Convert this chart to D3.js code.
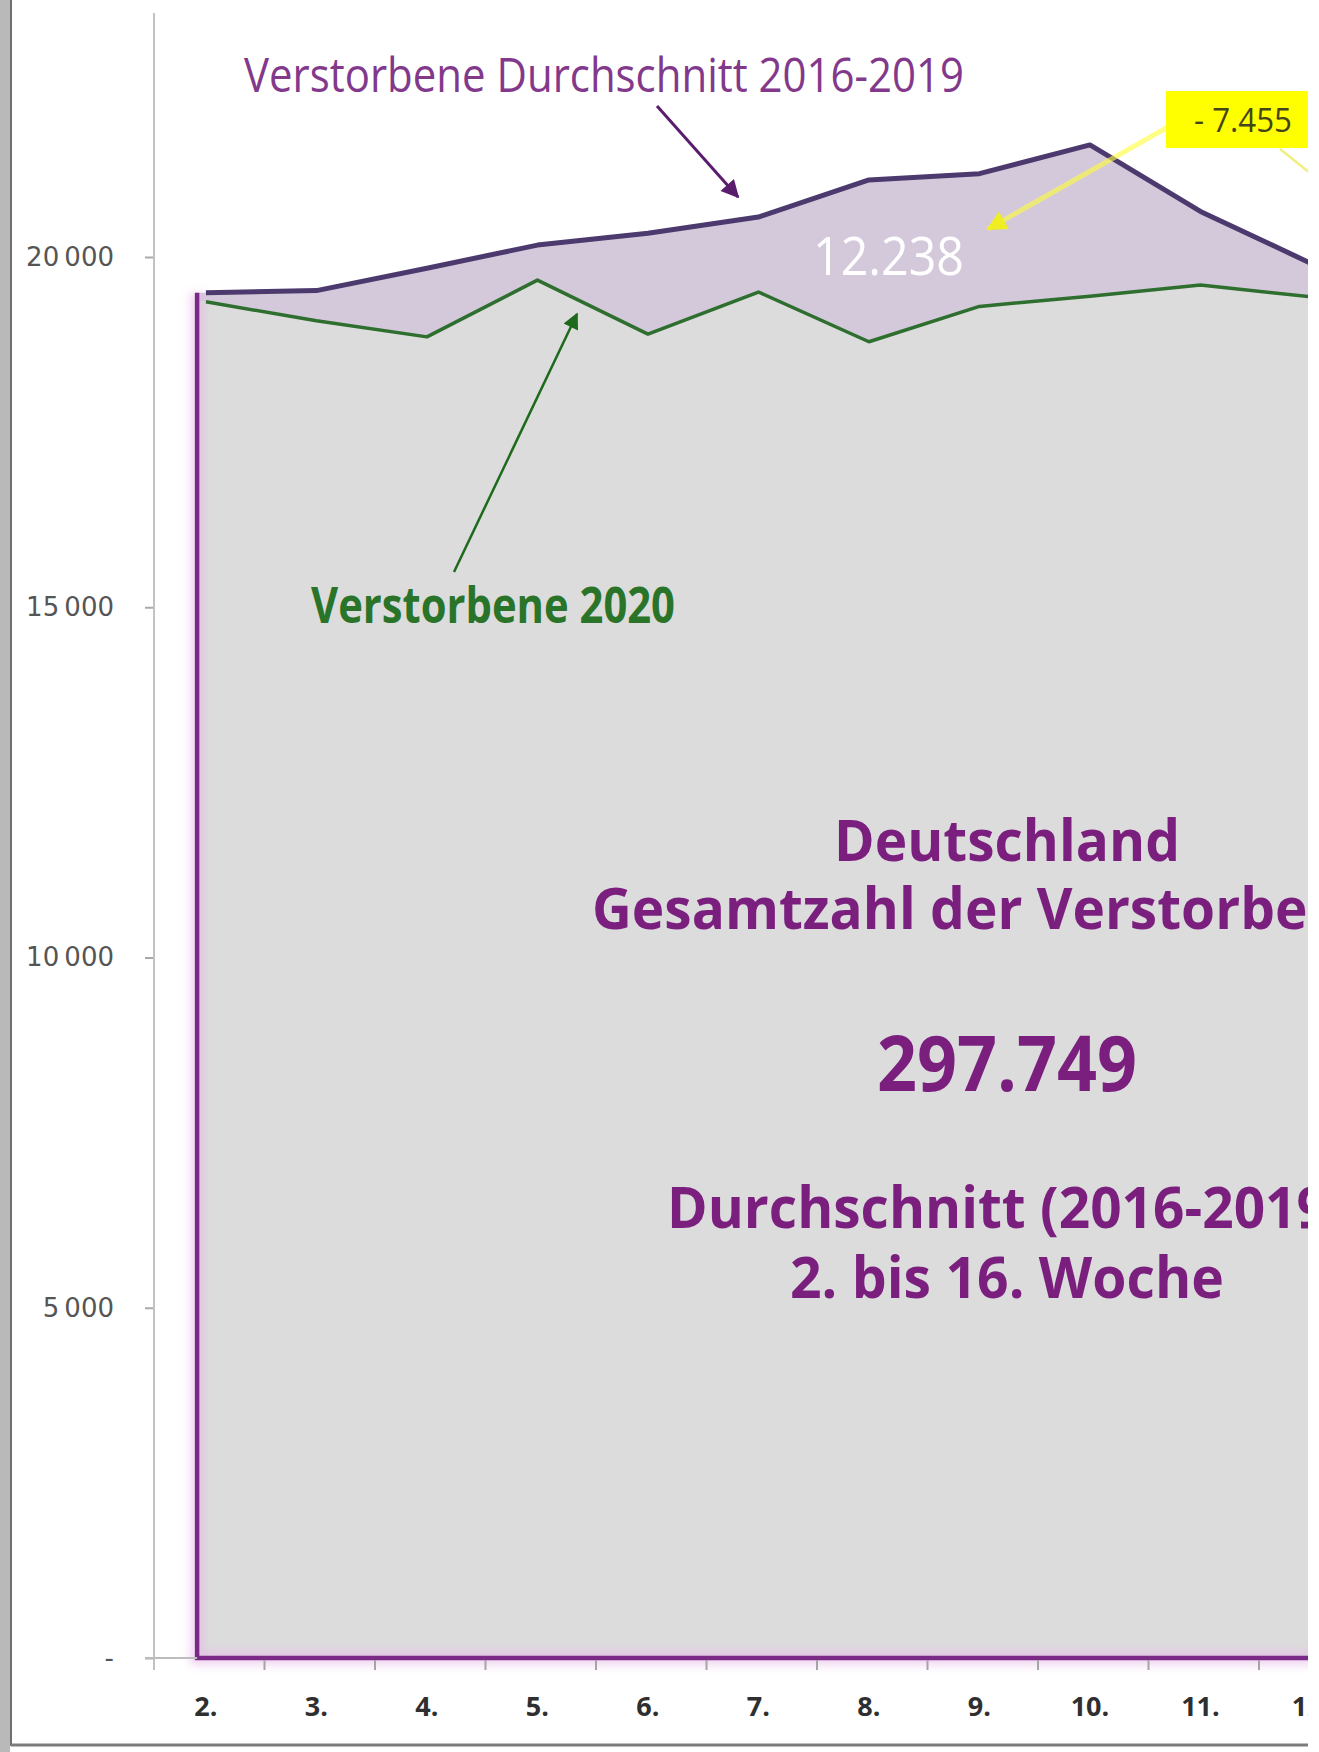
<!DOCTYPE html>
<html>
<head>
<meta charset="utf-8">
<script src="https://cdn.jsdelivr.net/npm/d3@7/dist/d3.min.js"></script>
<style>
  html, body { margin: 0; padding: 0; background: #ffffff; }
  svg { display: block; }
</style>
</head>
<body>
<svg id="chart" width="1319" height="1752"></svg>
<script>
// Calendar weeks shown on the x axis
const weeks = ["2.", "3.", "4.", "5.", "6.", "7.", "8.", "9.", "10.", "11.", "12."];
// Deaths per week, mean of 2016-2019
const average2016to2019 = [19490, 19520, 19840, 20170, 20340, 20570, 21100, 21190, 21600, 20650, 19910];
// Deaths per week, 2020
const deaths2020 = [19360, 19090, 18860, 19670, 18900, 19500, 18790, 19295, 19440, 19600, 19430];
// Value axis ticks
const yTickValues = [0, 5000, 10000, 15000, 20000];
// Annotation texts
const averageLabel = "Verstorbene Durchschnitt 2016-2019";
const deaths2020Label = "Verstorbene 2020";
const gapLabel = "12.238";
const calloutLabel = "- 7.455";
const headline = ["Deutschland", "Gesamtzahl der Verstorbenen"];
const totalLabel = "297.749";
const periodLines = ["Durchschnitt (2016-2019)", "2. bis 16. Woche"];

const W = 1319, H = 1752;
const svg = d3.select("#chart").attr("width", W).attr("height", H);
const defs = svg.append("defs");

defs.append("clipPath").attr("id", "frameClip")
  .append("rect").attr("x", 12).attr("y", 0).attr("width", 1296).attr("height", 1743);
defs.append("filter").attr("id", "soft").attr("x", "-20%").attr("y", "-20%").attr("width", "140%").attr("height", "140%")
  .append("feGaussianBlur").attr("stdDeviation", 4);

function arrowMarker(id, color, w, h) {
  defs.append("marker").attr("id", id)
    .attr("viewBox", "0 0 10 10").attr("refX", 9).attr("refY", 5)
    .attr("markerUnits", "userSpaceOnUse")
    .attr("markerWidth", w).attr("markerHeight", h)
    .attr("orient", "auto")
    .append("path").attr("d", "M0,0 L10,5 L0,10 Z").attr("fill", color);
}
arrowMarker("arrowPurple", "#5a1d6e", 22, 18);
arrowMarker("arrowGreen", "#1d6a1d", 22, 16);
arrowMarker("arrowYellow", "#eeee22", 22, 20);

// Scales: one band per week, starting at the value axis
const step = 110.5;
const x = d3.scaleBand().domain(weeks).range([154, 154 + step * weeks.length]).padding(0);
const y = d3.scaleLinear().domain([0, 20000]).range([1658, 257]);
const cx = w => x(w) + x.bandwidth() * 0.47;

const rows = weeks.map((w, i) => ({ px: cx(w), avg: average2016to2019[i], d20: deaths2020[i] }));
const edgeX = cx(weeks[0]) - x.bandwidth() * 0.08;
const areaRows = [{ px: edgeX, avg: rows[0].avg, d20: rows[0].d20 }].concat(rows);

// Frame of the picture
svg.append("rect").attr("x", 0).attr("y", 0).attr("width", 10).attr("height", H).attr("fill", "#b9b9b9");
svg.append("line").attr("x1", 11).attr("x2", 11).attr("y1", 0).attr("y2", 1746)
  .attr("stroke", "#6f6f6f").attr("stroke-width", 2);
svg.append("line").attr("x1", 11).attr("x2", 1308).attr("y1", 1745).attr("y2", 1745)
  .attr("stroke", "#7c7c7c").attr("stroke-width", 3);

const g = svg.append("g").attr("clip-path", "url(#frameClip)");

// Filled areas: grey under the 2020 line, lilac between 2020 and the average
g.append("path").datum(areaRows)
  .attr("d", d3.area().x(d => d.px).y0(y(0)).y1(d => y(d.d20)))
  .attr("fill", "#dcdcdc");
g.append("path").datum(areaRows)
  .attr("d", d3.area().x(d => d.px).y0(d => y(d.d20)).y1(d => y(d.avg)))
  .attr("fill", "#d4c9da");

// Outline of the area (left edge and base) with a soft pink halo
const outline = d3.line()([[edgeX, y(average2016to2019[0])], [edgeX, y(0)], [x.range()[1], y(0)]]);
g.append("path").attr("d", outline).attr("fill", "none")
  .attr("stroke", "#e7b9e8").attr("stroke-width", 14).attr("opacity", 0.6).attr("filter", "url(#soft)");
g.append("path").attr("d", outline).attr("fill", "none")
  .attr("stroke", "#7a2a86").attr("stroke-width", 4.5).attr("stroke-linejoin", "miter");

// Series lines
g.append("path").datum(rows)
  .attr("d", d3.line().x(d => d.px).y(d => y(d.d20)))
  .attr("fill", "none").attr("stroke", "#2e6e2e").attr("stroke-width", 3.5).attr("stroke-linejoin", "round");
g.append("path").datum(rows)
  .attr("d", d3.line().x(d => d.px).y(d => y(d.avg)))
  .attr("fill", "none").attr("stroke", "#4c3a6e").attr("stroke-width", 5).attr("stroke-linejoin", "round");

// Value axis
const yAxis = d3.axisLeft(y).tickValues(yTickValues).tickSize(9).tickPadding(31)
  .tickFormat(v => v === 0 ? "-" : d3.format(",")(v).replace(/,/g, "\u2009"));
const ya = svg.append("g").attr("transform", "translate(154,0)").call(yAxis);
ya.select(".domain").remove();
ya.selectAll(".tick line").attr("stroke", "#a9a9a9").attr("stroke-width", 2);
ya.selectAll(".tick text").attr("font-family", "'DejaVu Sans', Verdana, sans-serif")
  .attr("font-size", 26).attr("fill", "#555555");
svg.append("line").attr("x1", 154).attr("x2", 154).attr("y1", 13).attr("y2", y(0) + 12)
  .attr("stroke", "#c2c2c2").attr("stroke-width", 2);
svg.append("line").attr("x1", 145).attr("x2", edgeX).attr("y1", y(0)).attr("y2", y(0))
  .attr("stroke", "#bdbdbd").attr("stroke-width", 2);

// Category axis: tick marks on band borders, labels under the data points
g.append("g").selectAll("text").data(weeks).join("text")
  .attr("x", cx).attr("y", y(0) + 58)
  .attr("text-anchor", "middle")
  .attr("font-family", "'Open Sans', sans-serif").attr("font-weight", 700)
  .attr("font-size", 27).attr("fill", "#2f2f2f")
  .text(w => w);
g.append("g").selectAll("line").data(weeks).join("line")
  .attr("x1", w => x(w) + x.bandwidth()).attr("x2", w => x(w) + x.bandwidth())
  .attr("y1", y(0) + 2).attr("y2", y(0) + 12)
  .attr("stroke", "#a5a5a5").attr("stroke-width", 2);

// Text helper: place text and stretch it to the measured width
function label(parent, txt, opts) {
  const t = parent.append("text").text(txt)
    .attr("x", opts.x).attr("y", opts.y)
    .attr("text-anchor", opts.anchor || "start")
    .attr("font-family", "'Open Sans', sans-serif")
    .attr("font-weight", opts.weight || 400)
    .attr("font-size", opts.size)
    .attr("fill", opts.fill);
  const natural = t.node().getComputedTextLength();
  const width = opts.width || natural * (opts.factor || 1);
  t.attr("textLength", width).attr("lengthAdjust", "spacingAndGlyphs");
  return width / natural;
}

// Average annotation
label(g, averageLabel, { x: 244, y: 92, size: 47, fill: "#82398b", width: 720 });
g.append("line").attr("x1", 657).attr("y1", 106).attr("x2", 738).attr("y2", 197)
  .attr("stroke", "#5a1d6e").attr("stroke-width", 3).attr("marker-end", "url(#arrowPurple)");

// 2020 annotation
label(g, deaths2020Label, { x: 311, y: 623, size: 50, weight: 700, fill: "#2a742a", width: 364 });
g.append("line").attr("x1", 454).attr("y1", 572).attr("x2", 577).attr("y2", 314)
  .attr("stroke", "#1d6a1d").attr("stroke-width", 2.5).attr("marker-end", "url(#arrowGreen)");

// Gap between the curves
label(g, gapLabel, { x: 813, y: 275, size: 53, fill: "#ffffff", width: 151 });

// Yellow callout
g.append("line").attr("x1", 1280).attr("y1", 149).attr("x2", 1340).attr("y2", 197)
  .attr("stroke", "#eded6a").attr("stroke-width", 2.5).attr("opacity", 0.85);
g.append("line").attr("x1", 1168).attr("y1", 127).attr("x2", 988).attr("y2", 229)
  .attr("stroke", "#ffff3a").attr("stroke-width", 5).attr("opacity", 0.6);
g.append("line").attr("x1", 1008).attr("y1", 218).attr("x2", 988).attr("y2", 229)
  .attr("stroke", "none").attr("marker-end", "url(#arrowYellow)");
g.append("rect").attr("x", 1166).attr("y", 91).attr("width", 166).attr("height", 57).attr("fill", "#ffff00");
label(g, calloutLabel, { x: 1243, y: 132, size: 32, fill: "#45451a", anchor: "middle", width: 98 });

// Central statement
const purple = "#7b1f7f";
const k = label(g, headline[0], { x: 1007, y: 861, size: 58, weight: 700, fill: purple, anchor: "middle", width: 346 });
label(g, headline[1], { x: 592, y: 929, size: 58, weight: 700, fill: purple, factor: k });
label(g, totalLabel, { x: 1007, y: 1091, size: 77, weight: 700, fill: purple, anchor: "middle", width: 260 });
label(g, periodLines[0], { x: 667, y: 1228, size: 58, weight: 700, fill: purple, factor: k });
label(g, periodLines[1], { x: 1007, y: 1298, size: 58, weight: 700, fill: purple, anchor: "middle", width: 434 });
</script>
</body>
</html>
